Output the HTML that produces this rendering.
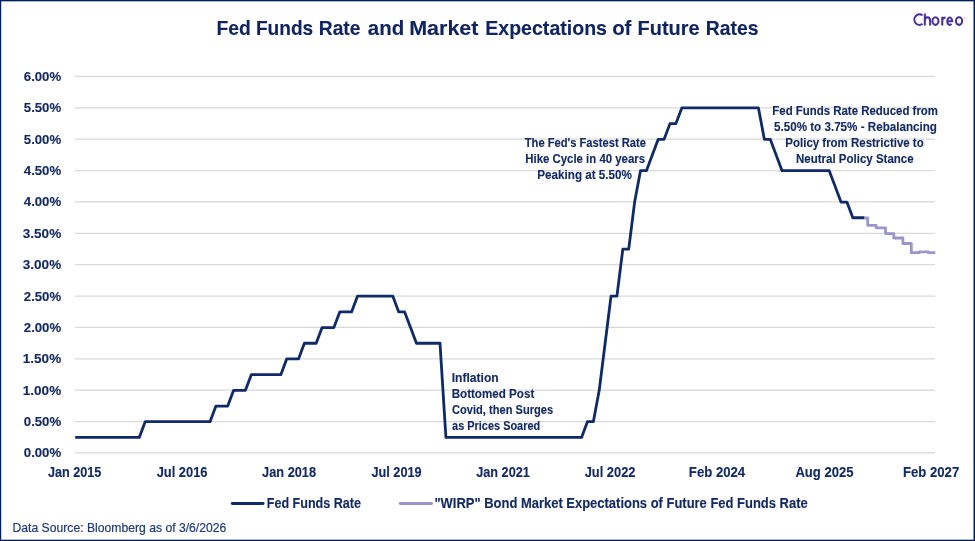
<!DOCTYPE html>
<html><head><meta charset="utf-8"><style>
html,body{margin:0;padding:0;background:#fff;}
body{width:975px;height:541px;overflow:hidden;position:relative;}
svg{position:absolute;left:0;top:0;will-change:transform;}
text{font-family:"Liberation Sans",sans-serif;}
.b{position:absolute;background:#03205E;}
</style></head><body>
<svg width="975" height="541" viewBox="0 0 975 541">
<line x1="75" y1="452.95" x2="935" y2="452.95" stroke="#D9D9D9" stroke-width="1.3"/>
<line x1="75" y1="421.57" x2="935" y2="421.57" stroke="#D9D9D9" stroke-width="1.3"/>
<line x1="75" y1="390.19" x2="935" y2="390.19" stroke="#D9D9D9" stroke-width="1.3"/>
<line x1="75" y1="358.81" x2="935" y2="358.81" stroke="#D9D9D9" stroke-width="1.3"/>
<line x1="75" y1="327.43" x2="935" y2="327.43" stroke="#D9D9D9" stroke-width="1.3"/>
<line x1="75" y1="296.05" x2="935" y2="296.05" stroke="#D9D9D9" stroke-width="1.3"/>
<line x1="75" y1="264.68" x2="935" y2="264.68" stroke="#D9D9D9" stroke-width="1.3"/>
<line x1="75" y1="233.30" x2="935" y2="233.30" stroke="#D9D9D9" stroke-width="1.3"/>
<line x1="75" y1="201.92" x2="935" y2="201.92" stroke="#D9D9D9" stroke-width="1.3"/>
<line x1="75" y1="170.54" x2="935" y2="170.54" stroke="#D9D9D9" stroke-width="1.3"/>
<line x1="75" y1="139.16" x2="935" y2="139.16" stroke="#D9D9D9" stroke-width="1.3"/>
<line x1="75" y1="107.78" x2="935" y2="107.78" stroke="#D9D9D9" stroke-width="1.3"/>
<line x1="75" y1="76.40" x2="935" y2="76.40" stroke="#D9D9D9" stroke-width="1.3"/>
<polyline points="75.20,437.41 80.30,437.41 86.19,437.41 92.09,437.41 97.99,437.41 103.89,437.41 109.78,437.41 115.68,437.41 121.58,437.41 127.47,437.41 133.37,437.41 139.27,437.41 145.16,421.72 151.06,421.72 156.96,421.72 162.86,421.72 168.75,421.72 174.65,421.72 180.55,421.72 186.44,421.72 192.34,421.72 198.24,421.72 204.13,421.72 210.03,421.72 215.93,406.03 221.83,406.03 227.72,406.03 233.62,390.34 239.52,390.34 245.41,390.34 251.31,374.65 257.21,374.65 263.10,374.65 269.00,374.65 274.90,374.65 280.80,374.65 286.69,358.96 292.59,358.96 298.49,358.96 304.38,343.27 310.28,343.27 316.18,343.27 322.07,327.58 327.97,327.58 333.87,327.58 339.76,311.89 345.66,311.89 351.56,311.89 357.46,296.20 363.35,296.20 369.25,296.20 375.15,296.20 381.04,296.20 386.94,296.20 392.84,296.20 398.74,311.89 404.63,311.89 410.53,327.58 416.43,343.27 422.32,343.27 428.22,343.27 434.12,343.27 440.01,343.27 445.91,437.41 451.81,437.41 457.71,437.41 463.60,437.41 469.50,437.41 475.40,437.41 481.29,437.41 487.19,437.41 493.09,437.41 498.98,437.41 504.88,437.41 510.78,437.41 516.68,437.41 522.57,437.41 528.47,437.41 534.37,437.41 540.26,437.41 546.16,437.41 552.06,437.41 557.95,437.41 563.85,437.41 569.75,437.41 575.64,437.41 581.54,437.41 587.44,421.72 593.34,421.72 599.23,390.34 605.13,343.27 611.03,296.20 616.92,296.20 622.82,249.14 628.72,249.14 634.62,202.07 640.51,170.69 646.41,170.69 652.31,155.00 658.20,139.31 664.10,139.31 670.00,123.62 675.89,123.62 681.79,107.93 687.69,107.93 693.59,107.93 699.48,107.93 705.38,107.93 711.28,107.93 717.17,107.93 723.07,107.93 728.97,107.93 734.86,107.93 740.76,107.93 746.66,107.93 752.55,107.93 758.45,107.93 764.35,139.31 770.25,139.31 776.14,155.00 782.04,170.69 787.94,170.69 793.83,170.69 799.73,170.69 805.63,170.69 811.52,170.69 817.42,170.69 823.32,170.69 829.22,170.69 835.11,186.38 841.01,202.07 846.91,202.07 852.80,217.76 858.70,217.76 864.60,217.76" fill="none" stroke="#0F2A66" stroke-width="2.8" stroke-linejoin="round"/>
<polyline points="864.00,218.00 867.70,218.00 867.70,225.30 876.10,225.30 876.10,227.80 885.50,227.80 885.50,233.60 893.80,233.60 893.80,238.00 902.90,238.00 902.90,243.50 911.30,243.50 911.30,252.70 919.30,252.70 919.30,251.90 928.20,251.90 928.20,252.70 935.40,252.70" fill="none" stroke="#9B95CC" stroke-width="2.8" stroke-linejoin="round"/>
<text x="216.48" y="34.6" textLength="34.36" lengthAdjust="spacingAndGlyphs" style="font-size:21px;font-weight:bold;fill:#102460;stroke:#102460;stroke-width:0.12px">Fed</text>
<text x="255.89" y="34.6" textLength="57.32" lengthAdjust="spacingAndGlyphs" style="font-size:21px;font-weight:bold;fill:#102460;stroke:#102460;stroke-width:0.12px">Funds</text>
<text x="318.78" y="34.6" textLength="41.70" lengthAdjust="spacingAndGlyphs" style="font-size:21px;font-weight:bold;fill:#102460;stroke:#102460;stroke-width:0.12px">Rate</text>
<text x="367.80" y="34.6" textLength="36.31" lengthAdjust="spacingAndGlyphs" style="font-size:21px;font-weight:bold;fill:#102460;stroke:#102460;stroke-width:0.12px">and</text>
<text x="409.18" y="34.6" textLength="69.32" lengthAdjust="spacingAndGlyphs" style="font-size:21px;font-weight:bold;fill:#102460;stroke:#102460;stroke-width:0.12px">Market</text>
<text x="485.27" y="34.6" textLength="121.70" lengthAdjust="spacingAndGlyphs" style="font-size:21px;font-weight:bold;fill:#102460;stroke:#102460;stroke-width:0.12px">Expectations</text>
<text x="612.13" y="34.6" textLength="19.31" lengthAdjust="spacingAndGlyphs" style="font-size:21px;font-weight:bold;fill:#102460;stroke:#102460;stroke-width:0.12px">of</text>
<text x="637.55" y="34.6" textLength="62.06" lengthAdjust="spacingAndGlyphs" style="font-size:21px;font-weight:bold;fill:#102460;stroke:#102460;stroke-width:0.12px">Future</text>
<text x="705.78" y="34.6" textLength="52.71" lengthAdjust="spacingAndGlyphs" style="font-size:21px;font-weight:bold;fill:#102460;stroke:#102460;stroke-width:0.12px">Rates</text>
<text x="23.80" y="457.40000000000003" textLength="37.37" lengthAdjust="spacingAndGlyphs" style="font-size:13.5px;font-weight:bold;fill:#132A64;stroke:#132A64;stroke-width:0.12px">0.00%</text>
<text x="23.80" y="426.02500000000003" textLength="37.37" lengthAdjust="spacingAndGlyphs" style="font-size:13.5px;font-weight:bold;fill:#132A64;stroke:#132A64;stroke-width:0.12px">0.50%</text>
<text x="22.80" y="394.65000000000003" textLength="38.38" lengthAdjust="spacingAndGlyphs" style="font-size:13.5px;font-weight:bold;fill:#132A64;stroke:#132A64;stroke-width:0.12px">1.00%</text>
<text x="22.80" y="363.27500000000003" textLength="38.38" lengthAdjust="spacingAndGlyphs" style="font-size:13.5px;font-weight:bold;fill:#132A64;stroke:#132A64;stroke-width:0.12px">1.50%</text>
<text x="23.80" y="331.90000000000003" textLength="37.37" lengthAdjust="spacingAndGlyphs" style="font-size:13.5px;font-weight:bold;fill:#132A64;stroke:#132A64;stroke-width:0.12px">2.00%</text>
<text x="23.80" y="300.52500000000003" textLength="37.37" lengthAdjust="spacingAndGlyphs" style="font-size:13.5px;font-weight:bold;fill:#132A64;stroke:#132A64;stroke-width:0.12px">2.50%</text>
<text x="22.80" y="269.15000000000003" textLength="38.38" lengthAdjust="spacingAndGlyphs" style="font-size:13.5px;font-weight:bold;fill:#132A64;stroke:#132A64;stroke-width:0.12px">3.00%</text>
<text x="22.80" y="237.775" textLength="38.38" lengthAdjust="spacingAndGlyphs" style="font-size:13.5px;font-weight:bold;fill:#132A64;stroke:#132A64;stroke-width:0.12px">3.50%</text>
<text x="23.80" y="206.4" textLength="37.37" lengthAdjust="spacingAndGlyphs" style="font-size:13.5px;font-weight:bold;fill:#132A64;stroke:#132A64;stroke-width:0.12px">4.00%</text>
<text x="23.80" y="175.025" textLength="37.37" lengthAdjust="spacingAndGlyphs" style="font-size:13.5px;font-weight:bold;fill:#132A64;stroke:#132A64;stroke-width:0.12px">4.50%</text>
<text x="23.80" y="143.65" textLength="37.37" lengthAdjust="spacingAndGlyphs" style="font-size:13.5px;font-weight:bold;fill:#132A64;stroke:#132A64;stroke-width:0.12px">5.00%</text>
<text x="23.80" y="112.275" textLength="37.37" lengthAdjust="spacingAndGlyphs" style="font-size:13.5px;font-weight:bold;fill:#132A64;stroke:#132A64;stroke-width:0.12px">5.50%</text>
<text x="23.80" y="80.9" textLength="37.37" lengthAdjust="spacingAndGlyphs" style="font-size:13.5px;font-weight:bold;fill:#132A64;stroke:#132A64;stroke-width:0.12px">6.00%</text>
<text x="47.90" y="477" textLength="53.46" lengthAdjust="spacingAndGlyphs" style="font-size:14px;font-weight:bold;fill:#132A64;stroke:#132A64;stroke-width:0.12px">Jan 2015</text>
<text x="156.70" y="477" textLength="50.74" lengthAdjust="spacingAndGlyphs" style="font-size:14px;font-weight:bold;fill:#132A64;stroke:#132A64;stroke-width:0.12px">Jul 2016</text>
<text x="262.10" y="477" textLength="53.96" lengthAdjust="spacingAndGlyphs" style="font-size:14px;font-weight:bold;fill:#132A64;stroke:#132A64;stroke-width:0.12px">Jan 2018</text>
<text x="371.40" y="477" textLength="50.24" lengthAdjust="spacingAndGlyphs" style="font-size:14px;font-weight:bold;fill:#132A64;stroke:#132A64;stroke-width:0.12px">Jul 2019</text>
<text x="476.30" y="477" textLength="53.46" lengthAdjust="spacingAndGlyphs" style="font-size:14px;font-weight:bold;fill:#132A64;stroke:#132A64;stroke-width:0.12px">Jan 2021</text>
<text x="584.70" y="477" textLength="50.84" lengthAdjust="spacingAndGlyphs" style="font-size:14px;font-weight:bold;fill:#132A64;stroke:#132A64;stroke-width:0.12px">Jul 2022</text>
<text x="688.86" y="477" textLength="56.28" lengthAdjust="spacingAndGlyphs" style="font-size:14px;font-weight:bold;fill:#132A64;stroke:#132A64;stroke-width:0.12px">Feb 2024</text>
<text x="795.40" y="477" textLength="58.13" lengthAdjust="spacingAndGlyphs" style="font-size:14px;font-weight:bold;fill:#132A64;stroke:#132A64;stroke-width:0.12px">Aug 2025</text>
<text x="903.06" y="477" textLength="56.18" lengthAdjust="spacingAndGlyphs" style="font-size:14px;font-weight:bold;fill:#132A64;stroke:#132A64;stroke-width:0.12px">Feb 2027</text>
<text x="524.80" y="146.8" textLength="121.14" lengthAdjust="spacingAndGlyphs" style="font-size:12.2px;font-weight:bold;fill:#132A64;stroke:#132A64;stroke-width:0.12px">The Fed's Fastest Rate</text>
<text x="525.26" y="162.6" textLength="119.79" lengthAdjust="spacingAndGlyphs" style="font-size:12.2px;font-weight:bold;fill:#132A64;stroke:#132A64;stroke-width:0.12px">Hike Cycle in 40 years</text>
<text x="537.34" y="178.8" textLength="94.57" lengthAdjust="spacingAndGlyphs" style="font-size:12.2px;font-weight:bold;fill:#132A64;stroke:#132A64;stroke-width:0.12px">Peaking at 5.50%</text>
<text x="772.36" y="115.1" textLength="165.64" lengthAdjust="spacingAndGlyphs" style="font-size:12.2px;font-weight:bold;fill:#132A64;stroke:#132A64;stroke-width:0.12px">Fed Funds Rate Reduced from</text>
<text x="774.00" y="131.4" textLength="162.96" lengthAdjust="spacingAndGlyphs" style="font-size:12.2px;font-weight:bold;fill:#132A64;stroke:#132A64;stroke-width:0.12px">5.50% to 3.75% - Rebalancing</text>
<text x="785.36" y="147.2" textLength="138.33" lengthAdjust="spacingAndGlyphs" style="font-size:12.2px;font-weight:bold;fill:#132A64;stroke:#132A64;stroke-width:0.12px">Policy from Restrictive to</text>
<text x="796.06" y="163.2" textLength="117.55" lengthAdjust="spacingAndGlyphs" style="font-size:12.2px;font-weight:bold;fill:#132A64;stroke:#132A64;stroke-width:0.12px">Neutral Policy Stance</text>
<text x="451.71" y="382.1" textLength="46.98" lengthAdjust="spacingAndGlyphs" style="font-size:12.2px;font-weight:bold;fill:#132A64;stroke:#132A64;stroke-width:0.12px">Inflation</text>
<text x="451.65" y="398.0" textLength="82.64" lengthAdjust="spacingAndGlyphs" style="font-size:12.2px;font-weight:bold;fill:#132A64;stroke:#132A64;stroke-width:0.12px">Bottomed Post</text>
<text x="452.10" y="414.2" textLength="100.96" lengthAdjust="spacingAndGlyphs" style="font-size:12.2px;font-weight:bold;fill:#132A64;stroke:#132A64;stroke-width:0.12px">Covid, then Surges</text>
<text x="452.10" y="430.2" textLength="88.12" lengthAdjust="spacingAndGlyphs" style="font-size:12.2px;font-weight:bold;fill:#132A64;stroke:#132A64;stroke-width:0.12px">as Prices Soared</text>
<text x="266.80" y="508" textLength="94.11" lengthAdjust="spacingAndGlyphs" style="font-size:14px;font-weight:bold;fill:#132A64;stroke:#132A64;stroke-width:0.12px">Fed Funds Rate</text>
<text x="434.47" y="508" textLength="373.21" lengthAdjust="spacingAndGlyphs" style="font-size:14px;font-weight:bold;fill:#132A64;stroke:#132A64;stroke-width:0.12px">"WIRP" Bond Market Expectations of Future Fed Funds Rate</text>
<text x="12.50" y="531.7" textLength="213.84" lengthAdjust="spacingAndGlyphs" style="font-size:13.5px;font-weight:normal;fill:#1F3877;stroke:#1F3877;stroke-width:0.2px">Data Source: Bloomberg as of 3/6/2026</text>
<line x1="232.3" y1="503.5" x2="263.1" y2="503.5" stroke="#0F2A66" stroke-width="2.9" stroke-linecap="round"/>
<line x1="400.2" y1="503.5" x2="431.6" y2="503.5" stroke="#9B95CC" stroke-width="2.9" stroke-linecap="round"/>
<g fill="none" stroke="#48329A" stroke-width="2.05"><path d="M922.46,15.3 A5.15,5.25 0 1 0 922.46,23.9"/><path d="M924.8,13.5 V25.4 M924.8,21 Q924.8,17.25 927.45,17.25 Q930.1,17.25 930.1,21 V25.4"/><ellipse cx="935.45" cy="21.05" rx="3.0" ry="3.8"/><path d="M942.25,16.65 V25.4 M942.25,20.3 Q942.6,17.6 945.5,17.6"/><path d="M947.25,21.2 H952.15 A2.45,3.65 0 1 0 951.43,23.78"/><ellipse cx="959.05" cy="21.05" rx="3.1" ry="3.8"/></g>
<circle cx="964.7" cy="17.75" r="1.0" fill="#D4D0E4"/>
</svg>
<div class="b" style="left:1px;top:1px;width:973px;height:1px;opacity:.35"></div>
<div class="b" style="left:1px;top:1px;width:1px;height:539px;opacity:.2"></div>
<div class="b" style="right:1px;top:1px;width:1px;height:539px;opacity:.5"></div>
<div class="b" style="left:1px;bottom:1px;width:973px;height:1px;opacity:.3"></div>
<div class="b" style="left:0;top:0;width:975px;height:1px"></div>
<div class="b" style="left:0;top:0;width:1px;height:541px"></div>
<div class="b" style="right:0;top:0;width:1px;height:541px"></div>
<div class="b" style="left:0;bottom:0;width:975px;height:1px"></div>
</body></html>
